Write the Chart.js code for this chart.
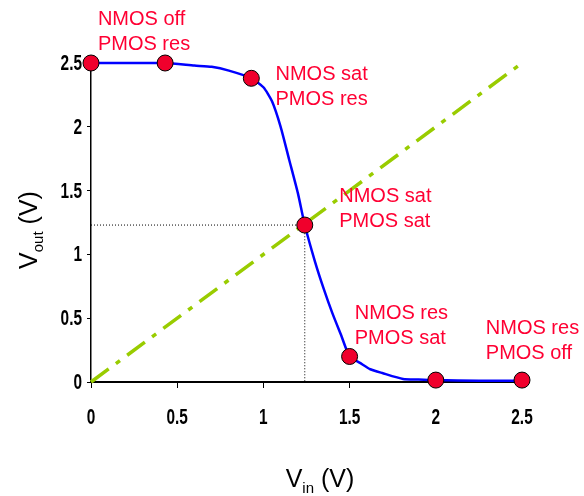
<!DOCTYPE html>
<html>
<head>
<meta charset="utf-8">
<script src="https://cdn.jsdelivr.net/npm/chart.js@4.4.0/dist/chart.umd.min.js"></script>
<style>
  html, body { margin: 0; padding: 0; background: #fff; }
  #wrap { width: 584px; height: 496px; position: relative; }
</style>
</head>
<body>
<div id="wrap"><canvas id="vtc"></canvas></div>
<script>
// transfer curve (Vin -> Vout)
const vin  = [0, 0.2, 0.43, 0.6, 0.7, 0.8, 0.93, 1.0, 1.05, 1.1, 1.15, 1.2, 1.24, 1.3, 1.35, 1.4, 1.45, 1.5, 1.56, 1.62, 1.69, 1.81, 1.9, 2.0, 2.25, 2.5];
const vout = [2.5, 2.5, 2.5, 2.48, 2.47, 2.44, 2.38, 2.31, 2.2, 2.0, 1.74, 1.48, 1.23, 0.94, 0.73, 0.54, 0.37, 0.2, 0.15, 0.1, 0.07, 0.024, 0.02, 0.015, 0.01, 0.01];

// operating points
const markX = [0, 0.43, 0.93, 1.24, 1.5, 2.0, 2.5];
const markY = [2.5, 2.5, 2.38, 1.23, 0.2, 0.015, 0.015];

// region labels and where they sit (data coords of first line)
const regionText = [
  ['NMOS off', 'PMOS res'],
  ['NMOS sat', 'PMOS res'],
  ['NMOS sat', 'PMOS sat'],
  ['NMOS res', 'PMOS sat'],
  ['NMOS res', 'PMOS off']
];
const regionX = [0.04, 1.07, 1.44, 1.53, 2.29];
const regionY = [2.84, 2.41, 1.45, 0.54, 0.42];

// switching point guide + Vin = Vout reference
const vm = 1.24, vmOut = 1.23;
const diagX = [0, 2.5];
const diagY = [0, 2.5];

const ticks = [0, 0.5, 1, 1.5, 2, 2.5];
const tickText = ['0', '0.5', '1', '1.5', '2', '2.5'];

const FONT = '"Liberation Sans", Arial';

// narrow bold tick labels (squeezed horizontally)
function narrowText(ctx, txt, x, y, align) {
  ctx.save();
  ctx.translate(x, y);
  ctx.scale(0.7, 1);
  ctx.textAlign = align;
  ctx.fillText(txt, 0, 0);
  ctx.restore();
}

const labelsPlugin = {
  id: 'labels',
  afterDatasetsDraw(chart) {
    const ctx = chart.ctx;
    const xs = chart.scales.x, ys = chart.scales.y;
    ctx.save();
    ctx.fillStyle = '#ff0033';
    ctx.font = '20px ' + FONT;
    ctx.textBaseline = 'middle';
    ctx.textAlign = 'left';
    regionText.forEach((lines, i) => {
      const px = xs.getPixelForValue(regionX[i]);
      const py = ys.getPixelForValue(regionY[i]);
      lines.forEach((t, j) => ctx.fillText(t, px, py + j * 25));
    });
    ctx.restore();
  },
  afterDraw(chart) {
    const ctx = chart.ctx;
    const xs = chart.scales.x, ys = chart.scales.y;
    ctx.save();
    ctx.fillStyle = '#000';

    // tick labels
    ctx.font = 'bold 22px ' + FONT;
    ctx.textBaseline = 'middle';
    ticks.forEach((v, i) => {
      narrowText(ctx, tickText[i], xs.getPixelForValue(v), 418, 'center');
      narrowText(ctx, tickText[i], 82, ys.getPixelForValue(v) + 1, 'right');
    });

    ctx.textBaseline = 'alphabetic';
    ctx.textAlign = 'left';
    // x title: V_in (V)
    ctx.font = '25px ' + FONT;
    const wV = ctx.measureText('V').width;
    const wR = ctx.measureText(' (V)').width;
    ctx.font = '15px ' + FONT;
    const wIn = ctx.measureText('in').width;
    const wOut = ctx.measureText('out').width;
    let x0 = 320 - (wV + wIn + wR) / 2;
    const by = 487;
    ctx.font = '25px ' + FONT;
    ctx.fillText('V', x0, by);
    ctx.font = '15px ' + FONT;
    ctx.fillText('in', x0 + wV, by + 6);
    ctx.font = '25px ' + FONT;
    ctx.fillText(' (V)', x0 + wV + wIn, by);

    // y title: V_out (V)
    ctx.translate(37, 230);
    ctx.rotate(-Math.PI / 2);
    x0 = -(wV + wOut + wR) / 2;
    ctx.fillText('V', x0, 0);
    ctx.font = '15px ' + FONT;
    ctx.fillText('out', x0 + wV, 6);
    ctx.font = '25px ' + FONT;
    ctx.fillText(' (V)', x0 + wV + wOut, 0);
    ctx.restore();
  }
};

new Chart(document.getElementById('vtc'), {
  type: 'scatter',
  data: {
    datasets: [
      {
        label: 'points',
        data: markX.map((x, i) => ({ x: x, y: markY[i] })),
        pointRadius: 8,
        pointBackgroundColor: '#f0002c',
        pointBorderColor: '#000',
        pointBorderWidth: 1,
        showLine: false,
        clip: false,
        order: 0
      },
      {
        label: 'Vout',
        data: vin.map((x, i) => ({ x: x, y: vout[i] })),
        showLine: true,
        borderColor: '#0000ff',
        borderWidth: 2.5,
        tension: 0.2,
        pointRadius: 0,
        clip: false,
        order: 1
      },
      {
        label: 'Vin = Vout',
        data: diagX.map((x, i) => ({ x: x, y: diagY[i] })),
        showLine: true,
        borderColor: '#99cc00',
        borderWidth: 3.5,
        borderDash: [22, 9, 5, 9],
        pointRadius: 0,
        clip: false,
        order: 2
      },
      {
        label: 'VM',
        data: [{ x: 0, y: vmOut }, { x: vm, y: vmOut }, { x: vm, y: 0 }],
        showLine: true,
        borderColor: '#000',
        borderWidth: 1,
        borderDash: [1, 2],
        pointRadius: 0,
        order: 3
      }
    ]
  },
  options: {
    responsive: true,
    maintainAspectRatio: false,
    animation: false,
    layout: { padding: { top: 63, right: 62, left: 0, bottom: 0 } },
    plugins: { legend: { display: false }, tooltip: { enabled: false } },
    scales: {
      x: {
        type: 'linear',
        min: 0, max: 2.5,
        afterBuildTicks: s => { s.ticks = ticks.map(v => ({ value: v })); },
        afterFit: s => { s.height = 114; },
        ticks: { display: false },
        grid: { drawOnChartArea: false, drawTicks: true, tickLength: 6, color: '#000', lineWidth: 1 },
        border: { color: '#000', width: 2 }
      },
      y: {
        type: 'linear',
        min: 0, max: 2.5,
        afterBuildTicks: s => { s.ticks = ticks.map(v => ({ value: v })); },
        afterFit: s => { s.width = 91; },
        ticks: { display: false },
        grid: { drawOnChartArea: false, drawTicks: true, tickLength: 4, color: '#000', lineWidth: 1 },
        border: { color: '#000', width: 1.5 }
      }
    }
  },
  plugins: [labelsPlugin]
});
</script>
</body>
</html>
